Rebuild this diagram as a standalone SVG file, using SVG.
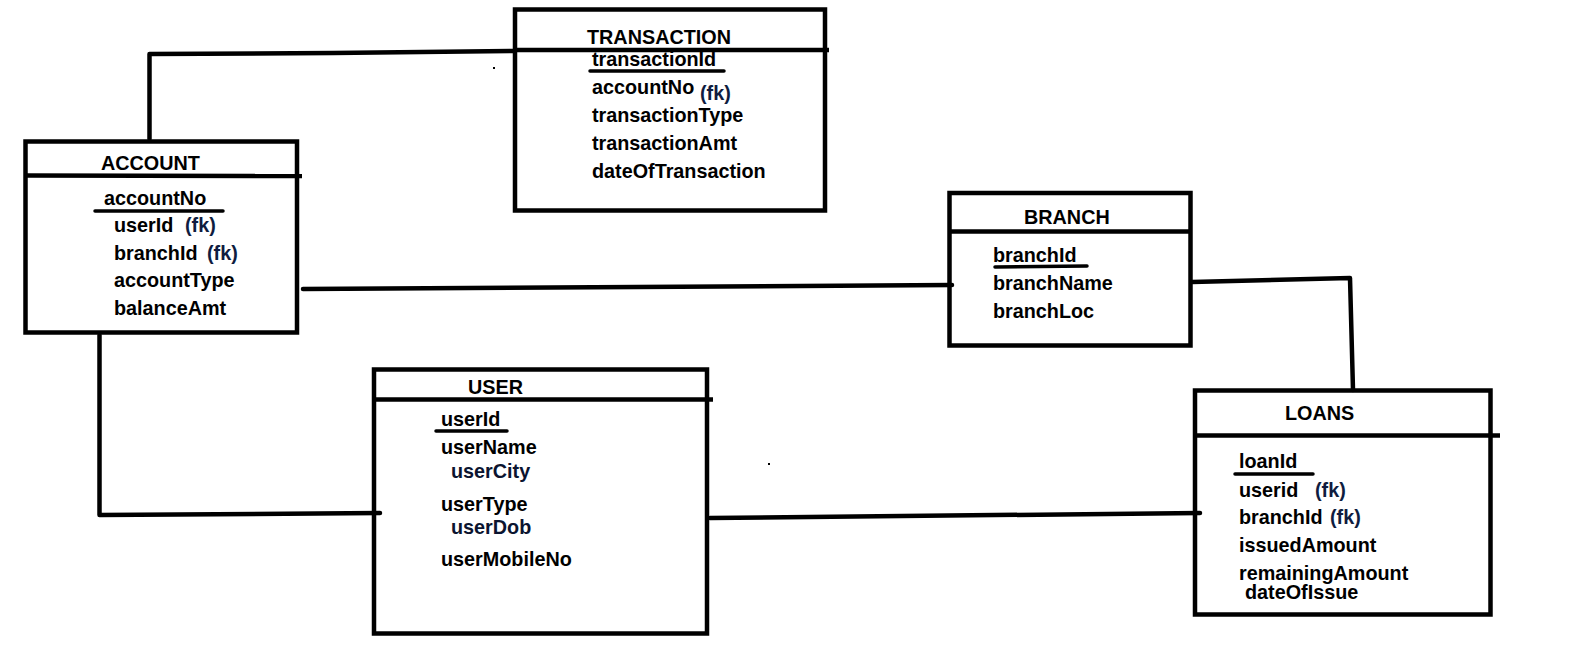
<svg xmlns="http://www.w3.org/2000/svg" width="1581" height="648" viewBox="0 0 1581 648">
<style>
.box{fill:none;stroke:#000;stroke-width:4.5;stroke-linejoin:miter}
.ln{fill:none;stroke:#000;stroke-width:4.5;stroke-linecap:round;stroke-linejoin:round}
.ul{fill:none;stroke:#000;stroke-width:3.5;stroke-linecap:round}
text{font-family:"Liberation Sans",Arial,sans-serif;font-weight:bold;font-size:19.8px;fill:#000}
.fk{fill:#0f1c40}
.nv{fill:#0b1430}
</style>
<rect width="1581" height="648" fill="#fff"/>
<g id="connectors">
<polyline class="ln" points="149.5,139 149.5,54 333,53 515,51"/>
<polyline class="ln" points="303,289 952,285"/>
<polyline class="ln" points="99.5,335 99.5,515 380,513"/>
<polyline class="ln" points="710,518 1200,513"/>
<polyline class="ln" points="1192,282 1350,278 1353,390"/>
<rect x="493" y="67" width="2" height="2" fill="#000"/>
<rect x="768" y="463" width="2" height="2" fill="#000"/>
</g>
<g id="account">
<rect class="box" x="25.5" y="141.5" width="271.5" height="191"/>
<line class="box" x1="25.5" y1="175.5" x2="302" y2="176"/>
<text x="101" y="170">ACCOUNT</text>
<text x="104" y="205">accountNo</text>
<line class="ul" x1="95" y1="211" x2="223" y2="211"/>
<text x="114" y="232">userId</text><text class="fk" x="185" y="232">(fk)</text>
<text x="114" y="260">branchId</text><text class="fk" x="207" y="260">(fk)</text>
<text x="114" y="287">accountType</text>
<text x="114" y="315">balanceAmt</text>
</g>
<g id="transaction">
<rect class="box" x="515" y="9.5" width="310" height="201"/>
<line class="box" x1="515" y1="50" x2="829" y2="50"/>
<text x="587" y="44">TRANSACTION</text>
<text x="592" y="66">transactionId</text>
<line class="ul" x1="590" y1="71" x2="724" y2="71"/>
<text x="592" y="94">accountNo</text><text class="fk" x="700" y="100">(fk)</text>
<text x="592" y="122">transactionType</text>
<text x="592" y="150">transactionAmt</text>
<text x="592" y="178">dateOfTransaction</text>
</g>
<g id="branch">
<rect class="box" x="949.5" y="193" width="241" height="152.5"/>
<line class="box" x1="949.5" y1="231.5" x2="1190.5" y2="231.5"/>
<text x="1024" y="224">BRANCH</text>
<text x="993" y="262">branchId</text>
<line class="ul" x1="995" y1="267" x2="1087" y2="266"/>
<text x="993" y="290">branchName</text>
<text x="993" y="318">branchLoc</text>
</g>
<g id="user">
<rect class="box" x="374" y="369.5" width="333" height="264"/>
<line class="box" x1="374" y1="399.5" x2="713" y2="399.5"/>
<text x="468" y="394">USER</text>
<text x="441" y="426">userId</text>
<line class="ul" x1="436" y1="431" x2="507" y2="431"/>
<text x="441" y="454">userName</text>
<text class="nv" x="451" y="478">userCity</text>
<text x="441" y="511">userType</text>
<text class="nv" x="451" y="534">userDob</text>
<text x="441" y="566">userMobileNo</text>
</g>
<g id="loans">
<rect class="box" x="1195" y="390.5" width="295.5" height="224"/>
<line class="box" x1="1195" y1="435.5" x2="1500" y2="435.5"/>
<text x="1285" y="420">LOANS</text>
<text x="1239" y="468">loanId</text>
<line class="ul" x1="1235" y1="474" x2="1313" y2="474"/>
<text x="1239" y="497">userid</text><text class="fk" x="1315" y="497">(fk)</text>
<text x="1239" y="524">branchId</text><text class="fk" x="1330" y="524">(fk)</text>
<text x="1239" y="552">issuedAmount</text>
<text x="1239" y="580">remainingAmount</text>
<text x="1245" y="599">dateOfIssue</text>
</g>
</svg>
